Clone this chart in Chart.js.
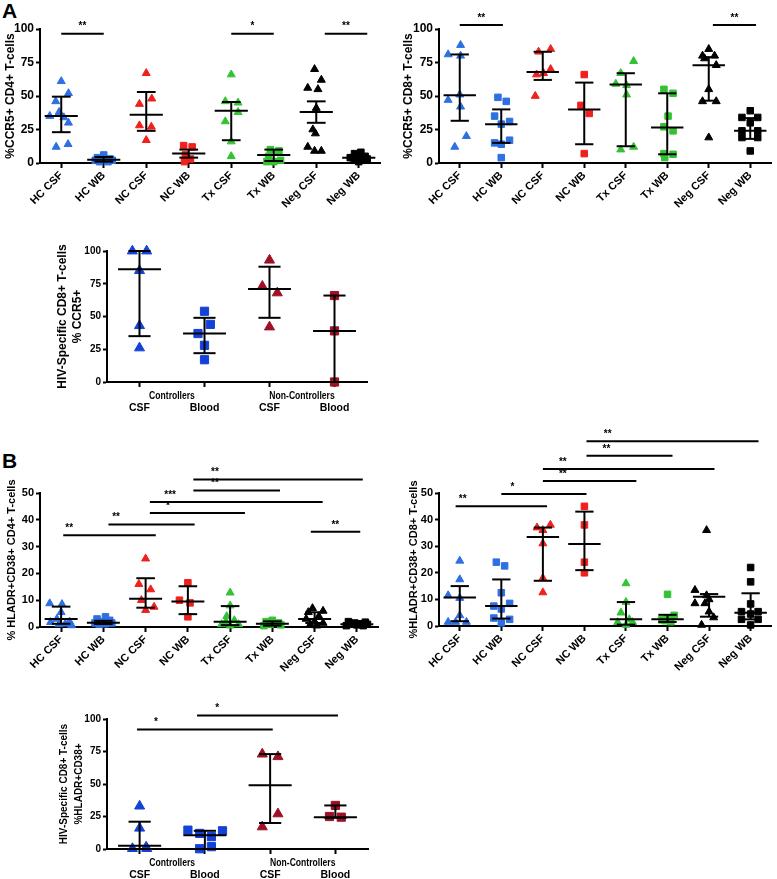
<!DOCTYPE html>
<html>
<head>
<meta charset="utf-8">
<script src="https://cdn.jsdelivr.net/npm/chart.js@4.4.1/dist/chart.umd.min.js"></script>
<style>
html, body { margin: 0; padding: 0; background: #fff; }
#fig { position: relative; width: 777px; height: 879px; overflow: hidden; }
#fig canvas { position: absolute; }
.tag { position: absolute; font: bold 21px "Liberation Sans", Arial, sans-serif; line-height: 1; }
</style>
</head>
<body>
<div id="fig">
  <div class="tag" style="left:2px;top:0px">A</div>
  <div class="tag" style="left:2px;top:450px">B</div>
  <canvas id="c1"></canvas>
  <canvas id="c2"></canvas>
  <canvas id="c3"></canvas>
  <canvas id="c4"></canvas>
  <canvas id="c5"></canvas>
  <canvas id="c6"></canvas>
</div>
<script>
// categories
const catsAB = ['HC CSF', 'HC WB', 'NC CSF', 'NC WB', 'Tx CSF', 'Tx WB', 'Neg CSF', 'Neg WB'];
const catsHiv = ['CSF', 'Blood', 'CSF', 'Blood'];
const groupsHiv = ['Controllers', 'Non-Controllers'];

// A left: %CCR5+ CD4+
const cd4Vals = [
  [61, 52, 46, 38, 35, 34, 30, 14, 12],
  [6, 4, 3, 3, 2, 2, 1, 1],
  [67, 48, 44, 28, 27, 17],
  [13, 12, 6, 3, 1],
  [66, 46, 45, 38, 31, 16, 5],
  [10, 9, 5, 2, 1, 1],
  [70, 62, 56, 55, 41, 25, 22, 12, 9, 9],
  [8, 7, 5, 4, 3, 3, 2, 2, 1]
];
const cd4Jit = [
  [0, 0.17, -0.13, -0.05, -0.27, 0.06, 0.17, 0.16, -0.12],
  [0, -0.15, 0.15, -0.05, -0.2, 0.2, -0.1, 0.1],
  [0, 0.13, -0.16, -0.16, 0.12, 0],
  [-0.12, 0.08, -0.08, 0.04, -0.1],
  [0, -0.14, 0.16, 0.16, -0.14, 0, 0],
  [-0.08, 0.12, -0.12, 0.16, 0, -0.16],
  [-0.04, 0.12, -0.2, 0.04, 0, -0.08, -0.02, -0.2, -0.04, 0.12],
  [0.05, -0.1, 0.15, -0.2, 0, 0.2, -0.1, 0.1, 0]
];
const cd4Med = [35, 2.5, 36, 7, 39, 6, 38, 4];
const cd4Lo = [23, 1, 24, 4, 17, 1.5, 30, 2];
const cd4Hi = [49.5, 4.5, 53, 10, 45.5, 10, 46, 6];
const cd4Sig = [[0, 1, 96.5, '**'], [4, 5, 96.5, '*'], [6.2, 7.2, 96.5, '**']];

// A right: %CCR5+ CD8+
const cd8Vals = [
  [88, 81, 80, 51, 47, 42, 20, 12],
  [49, 46, 35, 31, 29, 17, 15, 14, 4],
  [85, 83, 70, 67, 66, 50],
  [66, 43, 37, 7],
  [76, 67, 59, 58, 51, 12, 10],
  [55, 52, 35, 27, 24, 7, 6.5, 4],
  [85, 80, 80, 78, 73, 55, 46, 46, 19],
  [39, 34, 34, 30, 24, 24, 19, 19, 9]
];
const cd8Jit = [
  [0.02, -0.28, 0.02, 0, -0.28, 0.02, 0.16, -0.12],
  [-0.08, 0.12, -0.16, 0.2, 0, 0.2, -0.16, 0, 0],
  [0.19, -0.1, 0.19, 0.02, -0.15, -0.18],
  [0, -0.08, 0.12, 0],
  [0.19, -0.12, -0.24, 0.02, 0.02, 0.19, -0.12],
  [-0.08, 0.14, 0.02, -0.08, 0.14, -0.08, 0.14, -0.06],
  [0, -0.15, 0.14, -0.1, 0.18, 0, -0.15, 0.18, 0],
  [0, -0.2, 0.18, 0, -0.2, 0.18, -0.2, 0.18, 0]
];
const cd8Med = [50.5, 29, 68, 40, 58.5, 26.5, 73, 24];
const cd8Lo = [31.5, 15, 62, 14, 12.5, 6.5, 46.5, 18];
const cd8Hi = [81, 40, 83, 60, 67, 52, 79, 33.5];
const cd8Sig = [[0, 1.04, 103, '**'], [6.1, 7.14, 103, '**']];

// HIV-specific CD8+ % CCR5+
const hivCcr5Vals = [[100, 100, 85, 43, 26], [54, 44, 37, 28, 17], [93, 73, 68, 42], [66, 39, 0]];
const hivCcr5Jit = [[-0.11, 0.11, 0, 0, 0], [0, 0.09, -0.1, 0, 0], [0, -0.11, 0.12, 0], [0, 0, 0]];
const hivCcr5Med = [86, 37, 71, 39];
const hivCcr5Lo = [35, 22, 49, 0];
const hivCcr5Hi = [100, 49, 88, 66];

// B left: % HLADR+CD38+ CD4+
const cd4ActVals = [
  [8.8, 8.5, 5.5, 3, 2, 1.8, 1.2, 1, 0.6],
  [3.8, 3, 2.5, 2, 1.5, 1.5, 1.2, 1],
  [25.5, 16, 14, 10, 7.5, 6.3],
  [16.5, 10, 9, 3.8],
  [12.8, 8, 4, 2.5, 2, 1, 1, 0.5],
  [2.5, 2, 1.5, 1, 0.8, 0.5],
  [7, 6, 5.5, 4, 3, 2, 1.5, 1, 0.5],
  [2, 1.8, 1.5, 1.2, 1, 1, 0.8, 0.5, 0.5]
];
const cd4ActJit = [
  [-0.27, 0.02, 0, -0.1, 0.2, -0.25, 0.1, -0.05, 0.25],
  [0.05, -0.15, 0.15, -0.05, -0.2, 0.2, 0.05, -0.1],
  [0, -0.16, 0.12, -0.1, 0.2, 0],
  [0, -0.2, 0.05, 0],
  [0, 0, -0.08, 0.1, -0.1, -0.2, 0.2, 0],
  [0, -0.15, 0.15, -0.05, 0.2, -0.2],
  [-0.05, 0.2, -0.15, 0.1, -0.2, 0, 0.2, -0.1, 0.05],
  [-0.2, 0.2, -0.05, 0.1, -0.15, 0.25, 0, -0.25, 0.15]
];
const cd4ActMed = [3, 1.6, 10.5, 9.5, 2, 1.2, 3, 1];
const cd4ActLo = [1.2, 1.1, 7.2, 4.8, 0.7, 0.5, 1.5, 0.8];
const cd4ActHi = [7.6, 2.3, 18.2, 15.2, 7.8, 2.1, 5.5, 1.5];
const cd4ActSig = [
  [0.05, 2.24, 34.25, '**', 0.19],
  [1.12, 3.16, 38.25, '**', 1.3],
  [2.1, 4.35, 42.5, '*', 2.53],
  [2.1, 6.19, 46.6, '***', 2.58],
  [3.13, 5.18, 50.9, '**', 3.64],
  [3.13, 7.14, 55, '**', 3.64],
  [5.91, 7.08, 35.5, '**', 6.49]
];

// B right: %HLADR+CD38+ CD8+
const cd8ActVals = [
  [24.5, 17.5, 11.5, 10.5, 4, 1.5, 1.5, 1.5],
  [24, 22.6, 12.5, 8.5, 7.5, 6.4, 3, 2.5, 1.2],
  [38, 37, 36, 31, 18, 12.6],
  [45, 38, 24, 20],
  [16, 9, 5, 2.5, 1.4, 1.4, 0.4],
  [11.9, 4, 3, 2.3, 2, 1.6],
  [36, 13.5, 11.5, 10, 8.5, 8.5, 5.4, 3.2, 0.4],
  [22, 16.6, 8.3, 5.4, 5.4, 4.5, 2.5, 2.5, 0.4]
];
const cd8ActJit = [
  [0, 0, -0.28, 0, 0, -0.28, -0.1, 0.16],
  [-0.12, 0.08, 0, 0.2, -0.18, 0, -0.18, 0.2, 0],
  [0.18, -0.14, 0, 0, 0, 0],
  [0, 0, 0, 0],
  [0, 0, -0.12, 0.08, -0.2, 0.16, 0],
  [0, 0.16, 0, -0.14, -0.06, 0.08],
  [-0.06, -0.34, -0.06, 0, -0.34, -0.1, 0, 0.11, -0.18],
  [0, 0, 0, -0.22, 0.18, 0, -0.22, 0.18, 0]
];
const cd8ActMed = [10.7, 7.5, 33.5, 30.8, 2.5, 2.5, 11, 5];
const cd8ActLo = [1.8, 2.8, 17, 21, 0.5, 1.5, 3.5, 2.5];
const cd8ActHi = [15, 17.5, 37, 43, 9, 4.2, 12, 12.3];
const cd8ActSig = [
  [-0.1, 2.1, 45, '**', 0.07],
  [1.0, 3.05, 49.6, '*', 1.27],
  [2.0, 4.25, 54.5, '**', 2.48],
  [2.0, 6.13, 59, '**', 2.48],
  [3.05, 5.12, 64, '**', 3.53],
  [3.05, 7.19, 69.5, '**', 3.56]
];

// HIV-specific CD8+ %HLADR+CD38+
const hivActVals = [[33, 16, 1.5, 0.3, 0.3], [14.5, 14, 12, 9.5, 1.8, 0.2], [73, 71, 27, 17], [33.5, 25, 24.5]];
const hivActJit = [[0, 0, 0.1, -0.11, 0.11], [-0.26, 0.27, -0.08, 0.1, 0.1, -0.08], [-0.12, 0.12, 0.12, -0.12], [0, -0.09, 0.09]];
const hivActMed = [2.5, 10.5, 49, 24.5];
const hivActLo = [0, 0, 20, 24];
const hivActHi = [21, 14, 73, 33.5];
const hivActSig = [[-0.04, 2.04, 92, '*', 0.25], [0.88, 3.04, 102.6, '*', 1.19]];

const BLUE = '#2e6fe2', RED = '#f0201c', GREEN = '#33c233', BLACK = '#000000';
const DBLUE = '#1442d9', DRED = '#9e1024';
const colorsAB = [BLUE, BLUE, RED, RED, GREEN, GREEN, BLACK, BLACK];
const colorsHiv = [DBLUE, DBLUE, DRED, DRED];

const FONT = '"Liberation Sans", Arial, sans-serif';
Chart.defaults.font.family = FONT;
Chart.defaults.color = '#000';

// median + IQR bars, significance bars, grouped x labels
const statsPlugin = {
  id: 'dotStats',
  afterDatasetsDraw(chart, args, o) {
    const { ctx } = chart;
    const x = chart.scales.x, y = chart.scales.y;
    const seg = (x1, y1, x2, y2) => { ctx.beginPath(); ctx.moveTo(x1, y1); ctx.lineTo(x2, y2); ctx.stroke(); };
    ctx.save();
    ctx.strokeStyle = '#000';
    ctx.lineWidth = 2;
    ctx.lineCap = 'butt';
    o.med.forEach((m, i) => {
      const cx = x.getPixelForValue(i);
      const wm = x.getPixelForValue(i + o.medHalf) - cx;
      const wc = x.getPixelForValue(i + o.capHalf) - cx;
      const yl = y.getPixelForValue(o.lo[i]);
      const yh = y.getPixelForValue(o.hi[i]);
      const ym = y.getPixelForValue(m);
      seg(cx, yl, cx, yh);
      seg(cx - wm, ym, cx + wm, ym);
      seg(cx - wc, yl, cx + wc, yl);
      seg(cx - wc, yh, cx + wc, yh);
    });
    ctx.fillStyle = '#000';
    ctx.font = 'bold 10px ' + FONT;
    ctx.textAlign = 'center';
    ctx.textBaseline = 'middle';
    (o.sig || []).forEach(([a, b, v, lab, lx]) => {
      const yy = y.getPixelForValue(v);
      seg(x.getPixelForValue(a), yy, x.getPixelForValue(b), yy);
      const tx = x.getPixelForValue(lx === undefined ? (a + b) / 2 : lx);
      ctx.fillText(lab, tx, yy - 7);
    });
    if (o.groups) {
      const base = y.getPixelForValue(0);
      // condensed group captions
      ctx.font = 'bold 11px ' + FONT;
      o.groups.forEach((g, k) => {
        ctx.save();
        ctx.translate(x.getPixelForValue(2 * k + 0.5), base + o.groupDy);
        ctx.scale(0.78, 1);
        ctx.fillText(g, 0, 0);
        ctx.restore();
      });
      ctx.font = 'bold 10.5px ' + FONT;
      o.cats.forEach((c, i) => {
        ctx.fillText(c, x.getPixelForValue(i), base + o.catDy);
      });
    }
    ctx.restore();
  }
};

function makePanel(p) {
  const cv = document.getElementById(p.id);
  const [cx, cy, cw, ch] = p.box;
  const [L, T, R, B] = p.area;
  cv.width = cw;
  cv.height = ch;
  Object.assign(cv.style, { left: cx + 'px', top: cy + 'px', width: cw + 'px', height: ch + 'px' });

  const datasets = p.cats.map((c, i) => ({
    label: c,
    data: p.vals[i].map((v, k) => ({ x: i + p.jit[i][k], y: v })),
    pointStyle: c.includes('CSF') ? 'triangle' : 'rect',
    pointRadius: p.r,
    backgroundColor: p.colors[i],
    borderColor: p.colors[i],
    borderWidth: 1,
    clip: false
  }));

  return new Chart(cv, {
    type: 'scatter',
    data: { datasets },
    options: {
      responsive: false,
      animation: false,
      events: [],
      layout: { padding: { left: 0, top: T - cy, right: cx + cw - R, bottom: 0 } },
      plugins: {
        legend: { display: false },
        tooltip: { enabled: false },
        dotStats: {
          med: p.med, lo: p.lo, hi: p.hi, sig: p.sig,
          medHalf: p.medHalf, capHalf: p.capHalf,
          groups: p.groups, cats: p.cats, groupDy: 14, catDy: 26
        }
      },
      scales: {
        x: {
          type: 'linear',
          min: -0.5,
          max: p.cats.length - 0.5,
          afterBuildTicks: s => { s.ticks = p.cats.map((c, i) => ({ value: i })); },
          afterFit: s => { s.height = cy + ch - B; },
          grid: { drawOnChartArea: false, drawTicks: true, tickLength: 5, tickWidth: 2, tickColor: '#000' },
          border: { display: true, color: '#000', width: 2 },
          ticks: {
            display: !p.groups,
            minRotation: 45, maxRotation: 45,
            padding: 1,
            color: '#000',
            font: { size: 11, weight: 'bold' },
            callback: v => p.cats[v]
          }
        },
        y: {
          min: 0,
          max: p.ymax,
          afterFit: s => { s.width = L - cx; },
          grid: { drawOnChartArea: false, drawTicks: true, tickLength: 4, tickWidth: 2, tickColor: '#000' },
          border: { display: true, color: '#000', width: 2 },
          ticks: { stepSize: p.step, padding: 2, color: '#000', font: { size: p.tickSize, weight: 'bold' } },
          title: {
            display: true,
            text: p.title,
            color: '#000',
            font: { size: p.titleSize, weight: 'bold', lineHeight: p.titleLH },
            padding: { top: p.titlePad, bottom: 0 }
          }
        }
      }
    },
    plugins: [statsPlugin]
  });
}

makePanel({
  id: 'c1', box: [0, 0, 388, 215], area: [40, 29, 380, 163],
  cats: catsAB, vals: cd4Vals, jit: cd4Jit, colors: colorsAB, r: 4.6,
  med: cd4Med, lo: cd4Lo, hi: cd4Hi, sig: cd4Sig, medHalf: 0.39, capHalf: 0.22,
  ymax: 100, step: 25, tickSize: 12,
  title: '%CCR5+ CD4+ T-cells', titleSize: 12, titleLH: 1.2, titlePad: 3
});

makePanel({
  id: 'c2', box: [390, 0, 387, 215], area: [439, 29, 771, 163],
  cats: catsAB, vals: cd8Vals, jit: cd8Jit, colors: colorsAB, r: 4.6,
  med: cd8Med, lo: cd8Lo, hi: cd8Hi, sig: cd8Sig, medHalf: 0.39, capHalf: 0.22,
  ymax: 100, step: 25, tickSize: 12,
  title: '%CCR5+ CD8+ T-cells', titleSize: 12, titleLH: 1.2, titlePad: 11
});

makePanel({
  id: 'c3', box: [55, 215, 330, 200], area: [107, 251, 367, 382],
  cats: catsHiv, vals: hivCcr5Vals, jit: hivCcr5Jit, colors: colorsHiv, r: 5.8,
  med: hivCcr5Med, lo: hivCcr5Lo, hi: hivCcr5Hi, sig: [], medHalf: 0.33, capHalf: 0.17,
  groups: groupsHiv,
  ymax: 100, step: 25, tickSize: 10,
  title: ['HIV-Specific CD8+ T-cells', '% CCR5+'], titleSize: 12, titleLH: 1.25, titlePad: 0
});

makePanel({
  id: 'c4', box: [0, 420, 388, 255], area: [40, 493, 378, 627],
  cats: catsAB, vals: cd4ActVals, jit: cd4ActJit, colors: colorsAB, r: 4.6,
  med: cd4ActMed, lo: cd4ActLo, hi: cd4ActHi, sig: cd4ActSig, medHalf: 0.39, capHalf: 0.22,
  ymax: 50, step: 10, tickSize: 11,
  title: '% HLADR+CD38+ CD4+ T-cells', titleSize: 11, titleLH: 1.2, titlePad: 5
});

makePanel({
  id: 'c5', box: [390, 420, 387, 255], area: [439, 493, 772, 626],
  cats: catsAB, vals: cd8ActVals, jit: cd8ActJit, colors: colorsAB, r: 4.6,
  med: cd8ActMed, lo: cd8ActLo, hi: cd8ActHi, sig: cd8ActSig, medHalf: 0.39, capHalf: 0.22,
  ymax: 50, step: 10, tickSize: 11,
  title: '%HLADR+CD38+ CD8+ T-cells', titleSize: 11, titleLH: 1.2, titlePad: 17
});

makePanel({
  id: 'c6', box: [55, 690, 330, 189], area: [107, 719, 368, 849],
  cats: catsHiv, vals: hivActVals, jit: hivActJit, colors: colorsHiv, r: 5.8,
  med: hivActMed, lo: hivActLo, hi: hivActHi, sig: hivActSig, medHalf: 0.33, capHalf: 0.17,
  groups: groupsHiv,
  ymax: 100, step: 25, tickSize: 10,
  title: ['HIV-Specific CD8+ T-cells', '%HLADR+CD38+'], titleSize: 10, titleLH: 1.5, titlePad: 1.5
});
</script>
</body>
</html>
